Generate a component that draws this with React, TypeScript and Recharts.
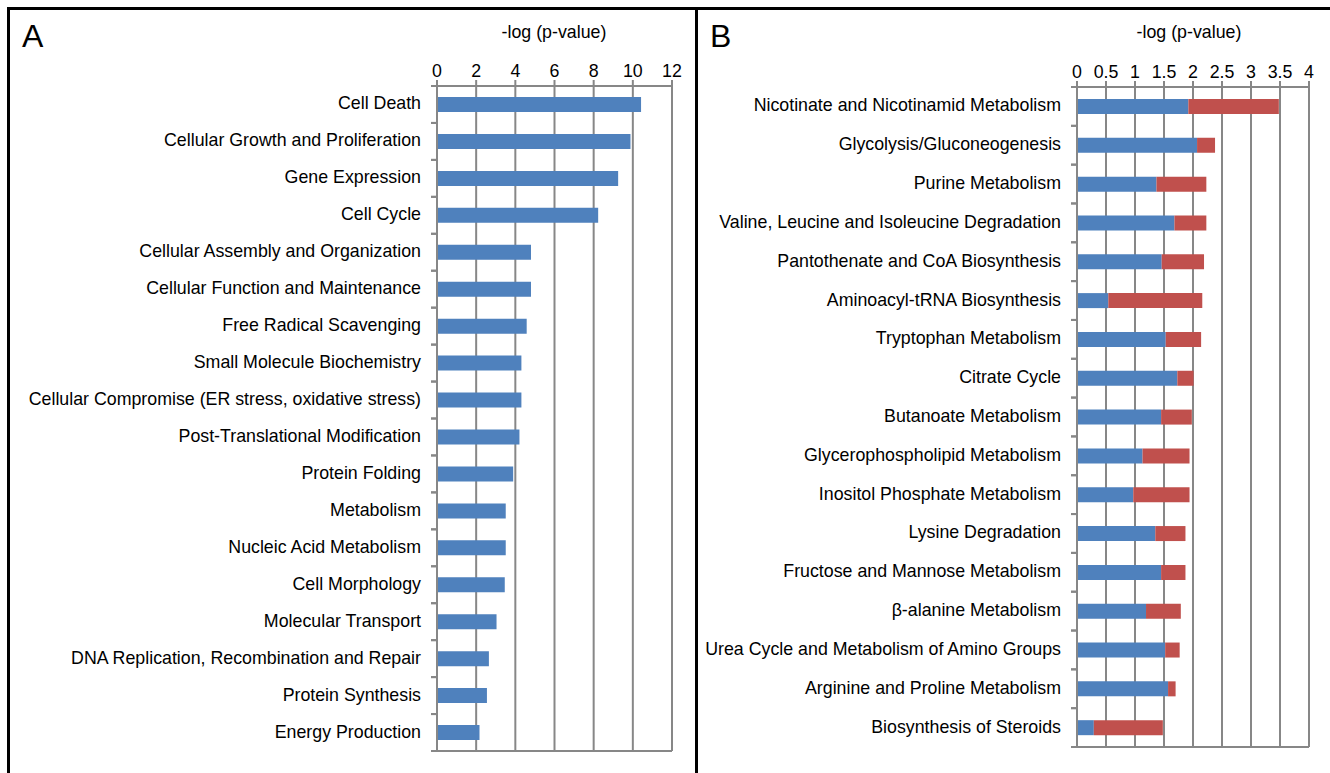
import { BarChart, Bar, XAxis, YAxis, CartesianGrid } from 'recharts';

// Panel A: functional categories
const functionNames = [
    'Cell Death',
    'Cellular Growth and Proliferation',
    'Gene Expression',
    'Cell Cycle',
    'Cellular Assembly and Organization',
    'Cellular Function and Maintenance',
    'Free Radical Scavenging',
    'Small Molecule Biochemistry',
    'Cellular Compromise (ER stress, oxidative stress)',
    'Post-Translational Modification',
    'Protein Folding',
    'Metabolism',
    'Nucleic Acid Metabolism',
    'Cell Morphology',
    'Molecular Transport',
    'DNA Replication, Recombination and Repair',
    'Protein Synthesis',
    'Energy Production'
];
const functionScores = [10.42, 9.88, 9.25, 8.23, 4.8, 4.8, 4.58, 4.31, 4.31, 4.21, 3.89, 3.51, 3.51, 3.46, 3.04, 2.65, 2.55, 2.17];
const functionTicks = [0, 2, 4, 6, 8, 10, 12];

// Panel B: pathways, two stacked contributions
const pathwayNames = [
    'Nicotinate and Nicotinamid Metabolism',
    'Glycolysis/Gluconeogenesis',
    'Purine Metabolism',
    'Valine, Leucine and Isoleucine Degradation',
    'Pantothenate and CoA Biosynthesis',
    'Aminoacyl-tRNA Biosynthesis',
    'Tryptophan Metabolism',
    'Citrate Cycle',
    'Butanoate Metabolism',
    'Glycerophospholipid Metabolism',
    'Inositol Phosphate Metabolism',
    'Lysine Degradation',
    'Fructose and Mannose Metabolism',
    'β-alanine Metabolism',
    'Urea Cycle and Metabolism of Amino Groups',
    'Arginine and Proline Metabolism',
    'Biosynthesis of Steroids'
];
const pathwaySetA = [1.92, 2.07, 1.37, 1.68, 1.46, 0.54, 1.53, 1.73, 1.45, 1.13, 0.97, 1.35, 1.45, 1.19, 1.52, 1.57, 0.29];
const pathwaySetB = [1.56, 0.31, 0.86, 0.55, 0.73, 1.62, 0.61, 0.28, 0.53, 0.81, 0.97, 0.52, 0.42, 0.6, 0.25, 0.13, 1.19];
const pathwayTicks = [0, 0.5, 1, 1.5, 2, 2.5, 3, 3.5, 4];

const BLUE = '#4F81BD';
const RED = '#C0504D';
const GRID = '#878787';
const FONT = '"Liberation Sans", Arial, sans-serif';
const LABEL_SIZE = 17.8;

const functionData = functionNames.map((name, i) => ({ name, score: functionScores[i] }));
const pathwayData = pathwayNames.map((name, i) => ({ name, setA: pathwaySetA[i], setB: pathwaySetB[i] }));

// layout of each panel's plot area
const A = { left: 0, width: 690, top: 56, axisH: 30, bottom: 20, yAxisW: 437, right: 18, height: 773 };
const B = { left: 698, width: 632, top: 57, axisH: 30, bottom: 24, yAxisW: 379, right: 21, height: 773 };

const CategoryTick = (props: any) => {
    const { y, payload, band, plotX } = props;
    return (
        <g>
            <text x={plotX - 16} y={y - 1} textAnchor="end" dominantBaseline="central" fontSize={LABEL_SIZE} fontFamily={FONT} fill="#000">
                {payload.value}
            </text>
            <line x1={plotX - 6} x2={plotX} y1={y - band / 2} y2={y - band / 2} stroke={GRID} strokeWidth={2} />
            <line x1={plotX - 6} x2={plotX} y1={y + band / 2} y2={y + band / 2} stroke={GRID} strokeWidth={2} />
        </g>
    );
};

const PanelChart = ({ cfg, data, ticks, max, children }: any) => {
    const plotH = cfg.height - cfg.top - cfg.axisH - cfg.bottom - 2;
    const band = plotH / data.length;
    const plotX = cfg.yAxisW;
    return (
        <BarChart
            layout="vertical"
            width={cfg.width}
            height={cfg.height}
            data={data}
            margin={{ top: cfg.top, right: cfg.right, bottom: cfg.bottom, left: 0 }}
            barCategoryGap="60%"
        >
            <CartesianGrid horizontal={false} stroke={GRID} strokeWidth={2} xAxisId="top" />
            <XAxis
                xAxisId="top"
                orientation="top"
                type="number"
                domain={[0, max]}
                ticks={ticks}
                height={cfg.axisH}
                interval={0}
                tickSize={6}
                tickMargin={3}
                stroke={GRID}
                strokeWidth={2}
                tick={{ fill: '#000', fontSize: LABEL_SIZE, fontFamily: FONT }}
            />
            <XAxis
                xAxisId="bottom"
                orientation="bottom"
                type="number"
                domain={[0, max]}
                ticks={ticks}
                height={2}
                tick={false}
                tickLine={false}
                stroke={GRID}
                strokeWidth={2}
            />
            <YAxis
                type="category"
                dataKey="name"
                width={cfg.yAxisW}
                interval={0}
                tickLine={false}
                stroke={GRID}
                strokeWidth={2}
                tick={<CategoryTick band={band} plotX={plotX} />}
            />
            {children}
        </BarChart>
    );
};

const Title = ({ text, center }: { text: string; center: number }) => (
    <div style={{ position: 'absolute', left: center - 100, width: 200, top: 22, textAlign: 'center', fontSize: LABEL_SIZE, fontFamily: FONT, color: '#000' }}>
        {text}
    </div>
);

const PanelLetter = ({ text, left }: { text: string; left: number }) => (
    <div style={{ position: 'absolute', left, top: 18, fontSize: 32, fontFamily: FONT, color: '#000' }}>{text}</div>
);

export default function App() {
    return (
        <div style={{ position: 'relative', width: 1330, height: 773, background: '#fff', overflow: 'hidden' }}>
            <style>{'body { margin: 0; }'}</style>
            {/* frame */}
            <div style={{ position: 'absolute', left: 7, top: 7, width: 1323, height: 3, background: '#000' }} />
            <div style={{ position: 'absolute', left: 7, top: 7, width: 3, height: 766, background: '#000' }} />
            <div style={{ position: 'absolute', left: 695, top: 7, width: 3, height: 766, background: '#000' }} />

            <PanelLetter text="A" left={22} />
            <PanelLetter text="B" left={710} />
            <Title text="-log (p-value)" center={554} />
            <Title text="-log (p-value)" center={1189} />

            <div style={{ position: 'absolute', left: A.left, top: 0 }}>
                <PanelChart cfg={A} data={functionData} ticks={functionTicks} max={12}>
                    <Bar xAxisId="top" dataKey="score" fill={BLUE} barSize={15} isAnimationActive={false} />
                </PanelChart>
            </div>
            <div style={{ position: 'absolute', left: B.left, top: 0 }}>
                <PanelChart cfg={B} data={pathwayData} ticks={pathwayTicks} max={4}>
                    <Bar xAxisId="top" dataKey="setA" stackId="p" fill={BLUE} barSize={15} isAnimationActive={false} />
                    <Bar xAxisId="top" dataKey="setB" stackId="p" fill={RED} barSize={15} isAnimationActive={false} />
                </PanelChart>
            </div>
        </div>
    );
}
